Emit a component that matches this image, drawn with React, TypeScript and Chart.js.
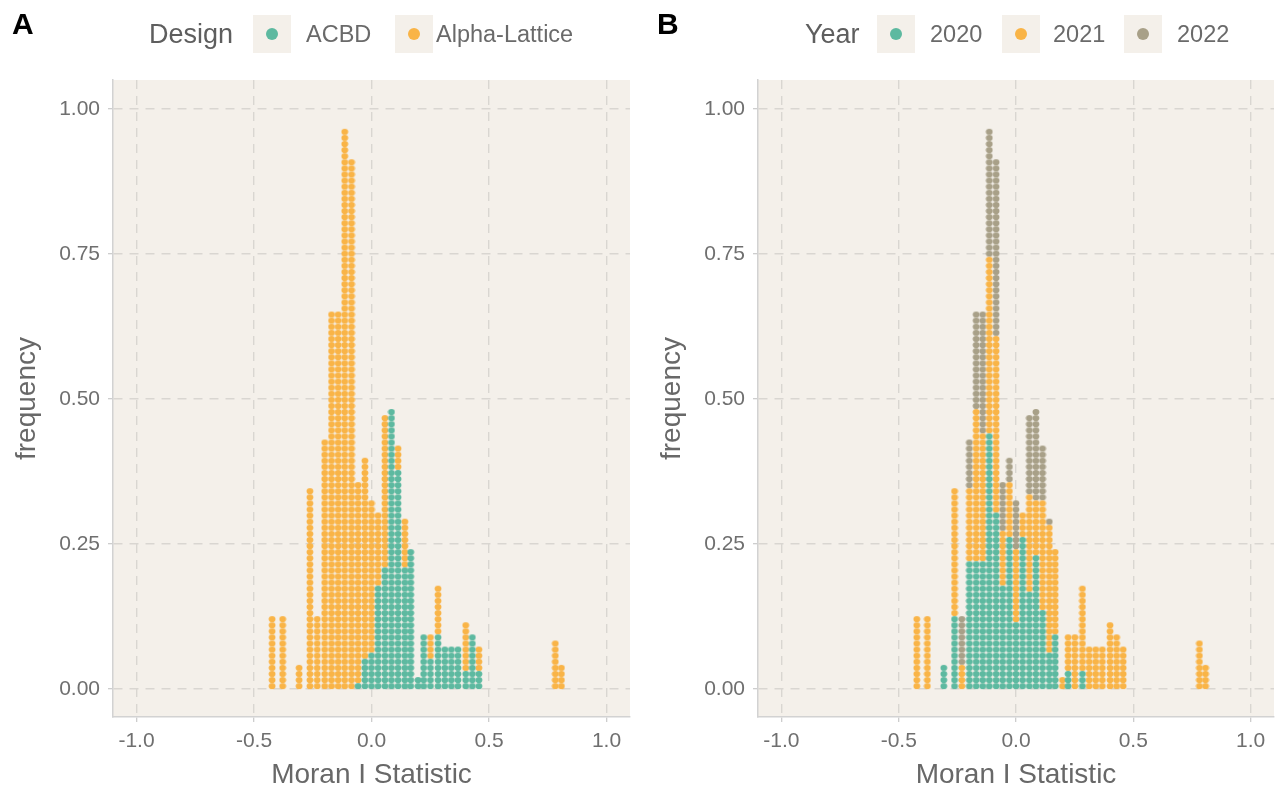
import React, { useEffect, useRef } from "react";
import { Chart, registerables } from "chart.js";

Chart.register(...registerables);

// ---- data ----
// x position of each dot column (Moran I statistic)
const colX = [
  -0.423, -0.378, -0.308, -0.262, -0.231, -0.199, -0.17, -0.142, -0.114, -0.085,
  -0.057, -0.028, 0.0, 0.028, 0.057, 0.085, 0.113, 0.142, 0.167, 0.198,
  0.222, 0.251, 0.283, 0.312, 0.34, 0.368, 0.401, 0.429, 0.457, 0.782, 0.808,
];
// Panel A: dots per column by design
const aACBD = [0, 0, 0, 0, 0, 0, 0, 0, 0, 0, 1, 5, 6, 17, 20, 46, 36, 20, 23, 2, 9, 5, 9, 7, 7, 7, 3, 9, 3, 0, 0];
const aAlpha = [12, 12, 4, 33, 12, 41, 62, 62, 92, 87, 33, 33, 25, 12, 25, 0, 4, 8, 0, 0, 0, 4, 8, 0, 0, 0, 8, 0, 4, 8, 4];
// Panel B: dots per column by year
const b2020 = [0, 0, 4, 12, 0, 21, 21, 21, 42, 29, 17, 25, 11, 25, 16, 22, 13, 6, 9, 0, 3, 0, 3, 0, 0, 0, 0, 0, 0, 0, 0];
const b2021 = [12, 12, 0, 21, 4, 12, 25, 21, 29, 29, 9, 9, 12, 4, 16, 9, 18, 21, 14, 2, 6, 9, 14, 7, 7, 7, 11, 9, 7, 8, 4];
const b2022 = [0, 0, 0, 0, 8, 8, 16, 20, 21, 29, 8, 4, 8, 0, 13, 15, 9, 1, 0, 0, 0, 0, 0, 0, 0, 0, 0, 0, 0, 0, 0];

const xTicks = [-1, -0.5, 0, 0.5, 1];
const yTicks = [0, 0.25, 0.5, 0.75, 1];
const designLabels = ["ACBD", "Alpha-Lattice"];
const yearLabels = ["2020", "2021", "2022"];

// ---- styles ----
const DOT_STEP = 0.0105; // height of one stacked dot in y units
const TEAL = "#5DB9A0";
const ORANGE = "#F9B447";
const TAUPE = "#A8A088";
const PANEL_BG = "#F4F0EA";
const GRID = "#D9D6D1";
const TEXT = "#6F6F6F";
const FONT = "'Liberation Sans', Arial, sans-serif";

function stackPoints(groups: number[][]) {
  const out = groups.map(() => [] as { x: number; y: number }[]);
  colX.forEach((x, i) => {
    let k = 0;
    groups.forEach((g, gi) => {
      for (let j = 0; j < g[i]; j++) {
        out[gi].push({ x, y: (k + 0.5) * DOT_STEP });
        k++;
      }
    });
  });
  return out;
}

function dotImage(color: string) {
  const c = document.createElement("canvas");
  c.width = 8;
  c.height = 8;
  const g = c.getContext("2d")!;
  g.fillStyle = color;
  g.beginPath();
  g.ellipse(4, 4, 3.4, 3.1, 0, 0, Math.PI * 2);
  g.fill();
  return c;
}

const bgPlugin = {
  id: "panelBg",
  beforeDraw(chart: any) {
    const { ctx, chartArea: a } = chart;
    ctx.save();
    ctx.fillStyle = PANEL_BG;
    ctx.fillRect(a.left, a.top, a.right - a.left, a.bottom - a.top);
    ctx.restore();
  },
};

function buildConfig(groups: number[][], colors: string[], labels: string[], yWidth: number, padRight: number, yTitlePad: number) {
  const pts = stackPoints(groups);
  const datasets = pts.map((data, i) => ({
    label: labels[i],
    data,
    pointStyle: dotImage(colors[i]) as any,
    pointRadius: 3,
    backgroundColor: colors[i],
    borderWidth: 0,
  }));
  const tickFont = { family: FONT, size: 21 };
  const titleFont = { family: FONT, size: 28, lineHeight: 1.2 };
  return {
    type: "scatter" as const,
    data: { datasets },
    options: {
      animation: false as const,
      responsive: false,
      maintainAspectRatio: false,
      events: [] as any[],
      layout: { padding: { top: 80, right: padRight, bottom: 0, left: 0 } },
      plugins: { legend: { display: false }, tooltip: { enabled: false } },
      scales: {
        x: {
          type: "linear" as const,
          min: -1.1,
          max: 1.1,
          afterBuildTicks: (s: any) => {
            s.ticks = xTicks.map((v) => ({ value: v }));
          },
          afterFit: (s: any) => {
            s.height = 75;
          },
          grid: { color: GRID, lineWidth: 1.4, drawTicks: true, tickLength: 5, tickColor: "#C8C8C8", tickWidth: 1.2 },
          border: { display: true, color: "#D2D2D2", width: 1.5, dash: [9, 7] },
          ticks: { font: tickFont, color: TEXT, padding: 7, maxRotation: 0, callback: (v: any) => Number(v).toFixed(1) },
          title: { display: true, text: "Moran I Statistic", font: titleFont, color: "#686868", padding: { top: 0, bottom: 0 } },
        },
        y: {
          type: "linear" as const,
          min: -0.048,
          max: 1.05,
          afterBuildTicks: (s: any) => {
            s.ticks = yTicks.map((v) => ({ value: v }));
          },
          afterFit: (s: any) => {
            s.width = yWidth;
          },
          grid: { color: GRID, lineWidth: 1.4, drawTicks: true, tickLength: 5, tickColor: "#C8C8C8", tickWidth: 1.2 },
          border: { display: true, color: "#D2D2D2", width: 1.5, dash: [9, 7] },
          ticks: { font: tickFont, color: TEXT, padding: 8, callback: (v: any) => Number(v).toFixed(2) },
          title: { display: true, text: "frequency", font: titleFont, color: "#686868", padding: { top: yTitlePad, bottom: 0 } },
        },
      },
    },
    plugins: [bgPlugin],
  };
}

function ChartCanvas(props: { left: number; cfg: () => any }) {
  const ref = useRef<HTMLCanvasElement>(null);
  useEffect(() => {
    const chart = new Chart(ref.current as HTMLCanvasElement, props.cfg());
    return () => chart.destroy();
  }, []);
  return (
    <canvas
      ref={ref}
      width={639}
      height={792}
      style={{ position: "absolute", left: props.left, top: 0, width: 639, height: 792 }}
    />
  );
}

function Legend(props: { title: string; titleLeft: number; items: { label: string; color: string; box: number; textLeft: number }[] }) {
  const cy = 34;
  return (
    <>
      <div style={{ position: "absolute", left: props.titleLeft, top: cy - 16, height: 32, lineHeight: "32px", fontFamily: FONT, fontSize: 27, color: "#5E5E5E", whiteSpace: "nowrap" }}>
        {props.title}
      </div>
      {props.items.map((it) => (
        <React.Fragment key={it.label}>
          <div style={{ position: "absolute", left: it.box, top: cy - 19, width: 38, height: 38, background: PANEL_BG }}>
            <div style={{ position: "absolute", left: 13, top: 13, width: 12, height: 12, borderRadius: 6, background: it.color }} />
          </div>
          <div style={{ position: "absolute", left: it.textLeft, top: cy - 14, height: 28, lineHeight: "28px", fontFamily: FONT, fontSize: 23.5, color: "#6A6A6A", whiteSpace: "nowrap" }}>
            {it.label}
          </div>
        </React.Fragment>
      ))}
    </>
  );
}

export default function App() {
  return (
    <div style={{ position: "fixed", left: 0, top: 0, width: 1278, height: 792, background: "#FFFFFF", overflow: "hidden" }}>
      <ChartCanvas left={0} cfg={() => buildConfig([aACBD, aAlpha], [TEAL, ORANGE], designLabels, 113, 9, 10)} />
      <ChartCanvas left={639} cfg={() => buildConfig([b2020, b2021, b2022], [TEAL, ORANGE, TAUPE], yearLabels, 119, 3, 16)} />
      <div style={{ position: "absolute", left: 12, top: 9, fontFamily: FONT, fontWeight: 700, fontSize: 30, lineHeight: "30px", color: "#000" }}>A</div>
      <div style={{ position: "absolute", left: 657, top: 9, fontFamily: FONT, fontWeight: 700, fontSize: 30, lineHeight: "30px", color: "#000" }}>B</div>
      <Legend
        title="Design"
        titleLeft={149}
        items={[
          { label: designLabels[0], color: TEAL, box: 253, textLeft: 306 },
          { label: designLabels[1], color: ORANGE, box: 395, textLeft: 436 },
        ]}
      />
      <Legend
        title="Year"
        titleLeft={805}
        items={[
          { label: yearLabels[0], color: TEAL, box: 877, textLeft: 930 },
          { label: yearLabels[1], color: ORANGE, box: 1002, textLeft: 1053 },
          { label: yearLabels[2], color: TAUPE, box: 1124, textLeft: 1177 },
        ]}
      />
    </div>
  );
}
